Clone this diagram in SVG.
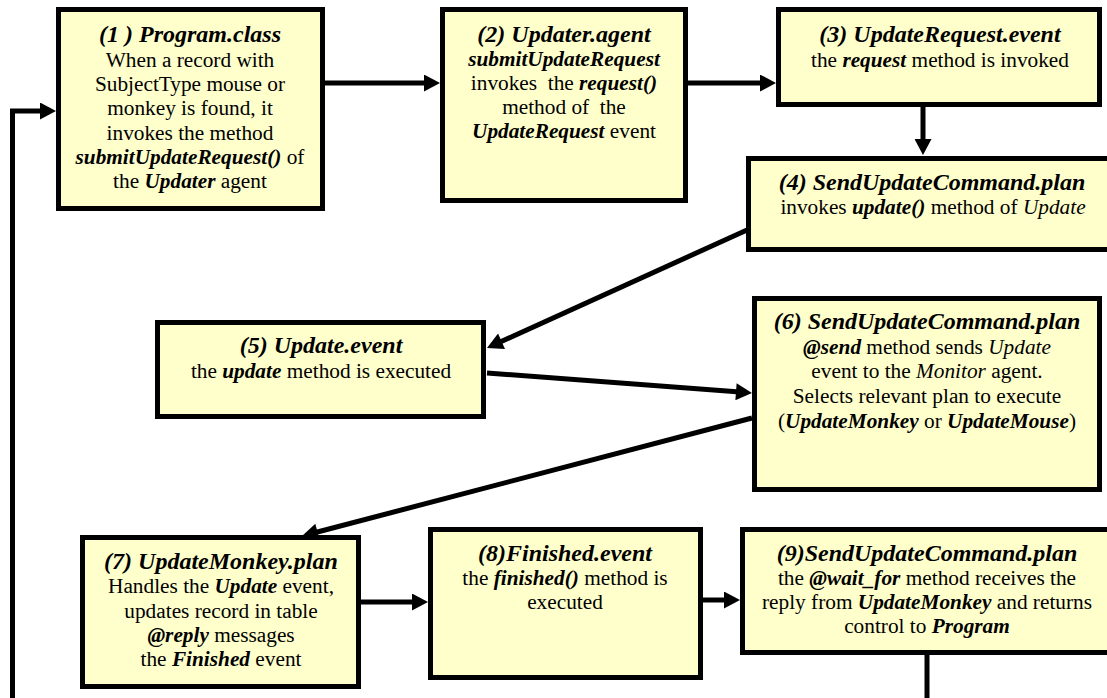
<svg xmlns="http://www.w3.org/2000/svg" width="1107" height="698" viewBox="0 0 1107 698">
<style>
.box{fill:#FFFFCC;stroke:#000;stroke-width:5}
text{font-family:'Liberation Serif',serif;text-anchor:middle;fill:#000}
.t{font-size:24px;font-weight:bold;font-style:italic}
.b{font-size:21.3px}
.bi{font-weight:bold;font-style:italic}
.i{font-style:italic}
.c{fill:none;stroke:#000;stroke-width:5}
</style>
<defs>
<marker id="arr" markerUnits="userSpaceOnUse" markerWidth="17" markerHeight="17" viewBox="0 0 16 17" refX="4" refY="8.5" orient="auto">
<path d="M0,0 L16,8.5 L0,17 z" fill="#000"/>
</marker>
</defs>
<g id="connectors">
<path class="c" d="M325,83 H428" marker-end="url(#arr)"/>
<path class="c" d="M688,83 H764" marker-end="url(#arr)"/>
<path class="c" d="M923,107 V143" marker-end="url(#arr)"/>
<path class="c" d="M747,230 L497.9,343.0" marker-end="url(#arr)"/>
<path class="c" d="M487,373 L740,392.1" marker-end="url(#arr)"/>
<path class="c" d="M752,418 L313.6,533.0" marker-end="url(#arr)"/>
<path class="c" d="M361,602 H416" marker-end="url(#arr)"/>
<path class="c" d="M703,600 H728" marker-end="url(#arr)"/>
<path class="c" d="M927,655 V712 H12.5 V111 H44" marker-end="url(#arr)"/>
</g>
<g id="n1">
<rect class="box" x="58.5" y="9.5" width="264" height="199"/>
<text class="t" x="190" y="42" xml:space="preserve">(1 ) Program.class</text>
<text class="b" x="190" y="66.5">When a record with</text>
<text class="b" x="190" y="91">SubjectType mouse or</text>
<text class="b" x="190" y="115">monkey is found, it</text>
<text class="b" x="190" y="139.5">invokes the method</text>
<text class="b" x="190" y="164"><tspan class="bi">submitUpdateRequest()</tspan> of</text>
<text class="b" x="190" y="188">the <tspan class="bi">Updater</tspan> agent</text>
</g>
<g id="n2">
<rect class="box" x="442.5" y="9.5" width="243" height="191"/>
<text class="t" x="564" y="42">(2) Updater.agent</text>
<text class="b" x="564" y="66"><tspan class="bi">submitUpdateRequest</tspan></text>
<text class="b" x="564" y="90" xml:space="preserve">invokes  the <tspan class="bi">request()</tspan></text>
<text class="b" x="564" y="114" xml:space="preserve">method of  the</text>
<text class="b" x="564" y="138"><tspan class="bi">UpdateRequest</tspan> event</text>
</g>
<g id="n3">
<rect class="box" x="778.5" y="9.5" width="321" height="95"/>
<text class="t" x="940" y="42">(3) UpdateRequest.event</text>
<text class="b" x="940" y="67">the <tspan class="bi">request</tspan> method is invoked</text>
</g>
<g id="n4">
<rect class="box" x="748.5" y="158.5" width="367" height="91"/>
<text class="t" x="932" y="190">(4) SendUpdateCommand.plan</text>
<text class="b" x="933" y="214">invokes <tspan class="bi">update()</tspan> method of <tspan class="i">Update</tspan></text>
</g>
<g id="n5">
<rect class="box" x="157.5" y="322.5" width="326" height="94"/>
<text class="t" x="321" y="353">(5) Update.event</text>
<text class="b" x="321" y="378">the <tspan class="bi">update</tspan> method is executed</text>
</g>
<g id="n6">
<rect class="box" x="754.5" y="298.5" width="345" height="191"/>
<text class="t" x="927" y="329">(6) SendUpdateCommand.plan</text>
<text class="b" x="927" y="354"><tspan class="bi">@send</tspan> method sends <tspan class="i">Update</tspan></text>
<text class="b" x="927" y="378">event to the <tspan class="i">Monitor</tspan> agent.</text>
<text class="b" x="927" y="403">Selects relevant plan to execute</text>
<text class="b" x="927" y="428">(<tspan class="bi">UpdateMonkey</tspan> or <tspan class="bi">UpdateMouse</tspan>)</text>
</g>
<g id="n7">
<rect class="box" x="82.5" y="537.5" width="276" height="149"/>
<text class="t" x="221" y="569">(7) UpdateMonkey.plan</text>
<text class="b" x="221" y="593">Handles the <tspan class="bi">Update</tspan> event,</text>
<text class="b" x="221" y="617.5">updates record in table</text>
<text class="b" x="221" y="642"><tspan class="bi">@reply</tspan> messages</text>
<text class="b" x="221" y="666">the <tspan class="bi">Finished</tspan> event</text>
</g>
<g id="n8">
<rect class="box" x="430.5" y="529.5" width="270" height="148"/>
<text class="t" x="565" y="561">(8)Finished.event</text>
<text class="b" x="565" y="585">the <tspan class="bi">finished()</tspan> method is</text>
<text class="b" x="565" y="609">executed</text>
</g>
<g id="n9">
<rect class="box" x="742.5" y="529.5" width="380" height="123"/>
<text class="t" x="927" y="561">(9)SendUpdateCommand.plan</text>
<text class="b" x="927" y="585">the <tspan class="bi">@wait_for</tspan> method receives the</text>
<text class="b" x="927" y="609">reply from <tspan class="bi">UpdateMonkey</tspan> and returns</text>
<text class="b" x="927" y="633">control to <tspan class="bi">Program</tspan></text>
</g>
</svg>
